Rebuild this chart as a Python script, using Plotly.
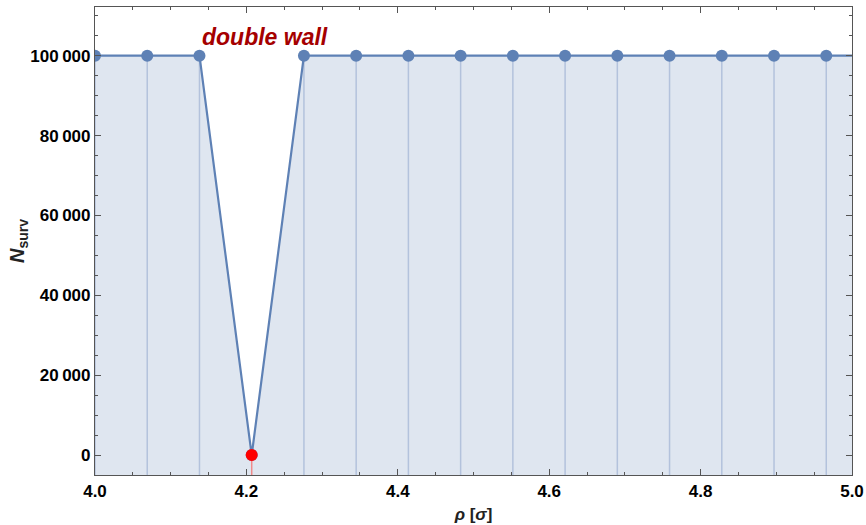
import plotly.graph_objects as go

# Data
rho = [4.0, 4.069, 4.138, 4.207, 4.276, 4.345, 4.414, 4.483, 4.552, 4.621,
       4.690, 4.759, 4.828, 4.897, 4.966, 5.035]
n_surv = [100000, 100000, 100000, 0, 100000, 100000, 100000, 100000, 100000,
          100000, 100000, 100000, 100000, 100000, 100000, 100000]
highlight_index = 3
y_floor = -5000
annotation_text = "double wall"
annotation_pos = (4.224, 104800)

LINE = "#5e81b5"
FILL = "rgba(94,129,181,0.2)"
DROP = "#b3c2dc"
RED = "#ff0000"
FONT = "Liberation Sans, Arial, sans-serif"

fig = go.Figure()

# baseline for filling
fig.add_trace(go.Scatter(x=rho, y=[y_floor] * len(rho), mode="lines",
                         line=dict(width=0), hoverinfo="skip", showlegend=False))
fig.add_trace(go.Scatter(x=rho, y=n_surv, mode="lines", fill="tonexty",
                         fillcolor=FILL, line=dict(width=0), showlegend=False,
                         hoverinfo="skip"))

# drop lines
dx, dy = [], []
for i, (x, y) in enumerate(zip(rho, n_surv)):
    if i == highlight_index:
        continue
    dx += [x, x, None]
    dy += [y_floor, y, None]
fig.add_trace(go.Scatter(x=dx, y=dy, mode="lines", line=dict(color=DROP, width=1.5),
                         showlegend=False, hoverinfo="skip"))
fig.add_trace(go.Scatter(x=[rho[highlight_index]] * 2, y=[y_floor, n_surv[highlight_index]],
                         mode="lines", line=dict(color="#f08a8a", width=1.5),
                         showlegend=False, hoverinfo="skip"))

# main line + markers
fig.add_trace(go.Scatter(x=rho, y=n_surv, mode="lines+markers",
                         line=dict(color=LINE, width=2.2),
                         marker=dict(color=LINE, size=12), showlegend=False))
fig.add_trace(go.Scatter(x=[rho[highlight_index]], y=[n_surv[highlight_index]],
                         mode="markers", marker=dict(color=RED, size=12),
                         showlegend=False))

fig.add_annotation(x=annotation_pos[0], y=annotation_pos[1],
                   text="<b><i>" + annotation_text + "</i></b>",
                   showarrow=False, font=dict(color="#a50000", size=23, family=FONT))

axis_common = dict(showline=True, linecolor="#555555", linewidth=1.2, mirror="ticks",
                   ticks="inside", ticklen=6, tickcolor="#555555", tickwidth=1,
                   showgrid=False, zeroline=False, automargin=False,
                   tickfont=dict(family=FONT, size=17, color="black", weight="bold"))

fig.update_xaxes(range=[4.0, 5.0], dtick=0.2, tick0=4.0, tickformat=".1f",
                 minor=dict(dtick=0.05, ticks="inside", ticklen=3, tickcolor="#555555"),
                 title=dict(text="<b><i>ρ</i> [<i>σ</i>]</b>", standoff=8,
                            font=dict(family=FONT, size=17, color="#222")),
                 **axis_common)
fig.update_yaxes(range=[-5000, 112200], dtick=20000, tick0=0, tickformat=",d",
                 minor=dict(dtick=5000, ticks="inside", ticklen=3, tickcolor="#555555"),
                 title=dict(text="<b><i>N</i><sub>surv</sub></b>", standoff=0,
                            font=dict(family=FONT, size=20, color="#222")),
                 **axis_common)

fig.update_layout(width=866, height=525, margin=dict(l=95, r=14, t=7, b=50),
                  plot_bgcolor="white", paper_bgcolor="white",
                  separators=".\u2009")

fig.write_html("out.html")
